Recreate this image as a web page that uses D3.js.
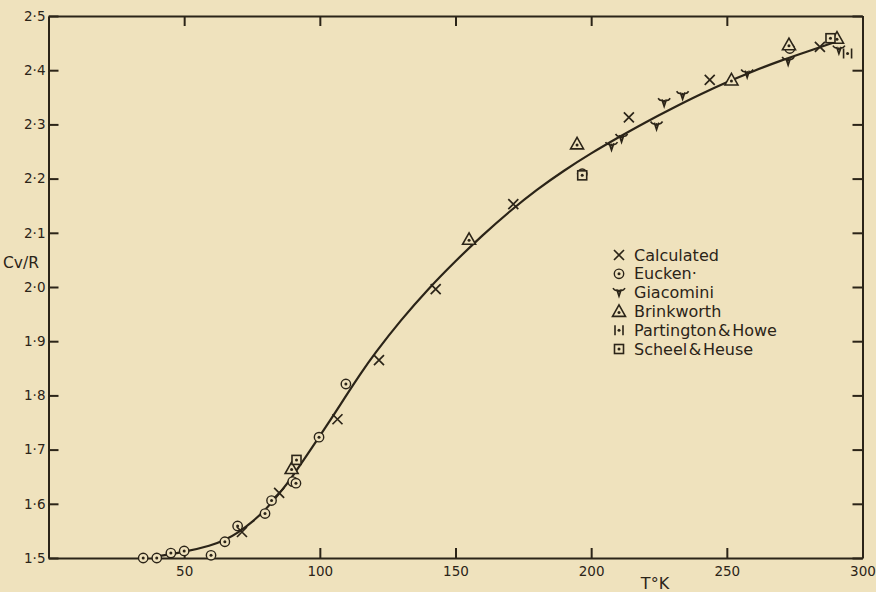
<!DOCTYPE html>
<html>
<head>
<meta charset="utf-8">
<script src="https://cdn.jsdelivr.net/npm/d3@7"></script>
<style>
  html, body { margin: 0; padding: 0; background: #efe2bd; }
  svg { display: block; }
  text { font-family: "DejaVu Sans", sans-serif; fill: #2b2418; }
  .axis path, .axis line { stroke: #2b2418; stroke-width: 2; }
</style>
</head>
<body>
<svg id="chartsvg" width="876" height="592"></svg>
<script>
var vis = d3.select("#chartsvg");
const ink = "#2b2418";
const paper = "#efe2bd";

// x ticks (T in K) and y ticks (Cv/R)
let xTicks = [50, 100, 150, 200, 250, 300];
let yTicks = [1.5, 1.6, 1.7, 1.8, 1.9, 2.0, 2.1, 2.2, 2.3, 2.4, 2.5];

// smooth curve: [T, Cv/R]
let curvePts = [[40, 1.503], [50, 1.511], [60, 1.523], [65, 1.533], [70, 1.547], [75, 1.566],
    [80, 1.589], [85, 1.618], [90, 1.651], [95, 1.688], [100, 1.725], [105, 1.763],
    [110, 1.802], [115, 1.840], [120, 1.876], [130, 1.940], [140, 1.997], [150, 2.048],
    [160, 2.096], [170, 2.140], [180, 2.180], [190, 2.215], [200, 2.247], [210, 2.276],
    [220, 2.304], [230, 2.330], [240, 2.355], [250, 2.378], [260, 2.399], [270, 2.418],
    [280, 2.435], [290, 2.452]];

// observed / calculated series
let calculated = [[71.3, 1.548], [85, 1.620], [106.5, 1.756], [121.8, 1.865], [142.7, 1.996],
    [171.3, 2.153], [213.9, 2.313], [243.7, 2.382], [284.3, 2.443]];
let eucken = [[34.9, 1.500], [39.9, 1.500], [45.1, 1.509], [50.0, 1.513], [59.9, 1.505],
    [65.0, 1.530], [69.7, 1.559], [79.8, 1.582], [82.2, 1.606], [90.0, 1.641], [91.2, 1.638],
    [99.7, 1.723], [109.6, 1.821], [196.7, 2.209], [273.2, 2.440]];
let giacomini = [[207.5, 2.259], [211.2, 2.274], [224.1, 2.297], [226.9, 2.340], [233.7, 2.353],
    [257.5, 2.393], [272.6, 2.416], [291.3, 2.437]];
let brinkworth = [[89.6, 1.665], [155.0, 2.088], [194.8, 2.264], [251.7, 2.382], [272.9, 2.447],
    [290.6, 2.459]];
let partington = [[294.5, 2.431]];
let scheel = [[91.4, 1.681], [196.7, 2.206], [288.2, 2.459]];

let legendNames = ["Calculated", "Eucken\u00b7", "Giacomini", "Brinkworth", "Partington & Howe", "Scheel & Heuse"];

const plot = {left: 48.5, right: 862.5, top: 16, bottom: 558};

var x = d3.scaleLinear().domain([0, 300]).range([plot.left, plot.right]);
var y = d3.scaleLinear().domain([1.5, 2.5]).range([plot.bottom, plot.top]);
var fmt = d => d.toFixed(1).replace(".", "\u00b7");

// axes, ticks pointing inward on all four sides
vis.append("g").attr("class", "axis")
    .attr("transform", "translate(0," + plot.bottom + ")")
    .call(d3.axisBottom(x).tickValues(xTicks).tickSize(-10).tickSizeOuter(0).tickPadding(6))
    .call(g => g.selectAll("text").attr("font-size", 13.5).attr("dy", "0.9em"));

vis.append("g").attr("class", "axis")
    .attr("transform", "translate(0," + plot.top + ")")
    .call(d3.axisTop(x).tickValues(xTicks).tickSize(-10).tickSizeOuter(0).tickFormat(""));

vis.append("g").attr("class", "axis")
    .attr("transform", "translate(" + plot.left + ",0)")
    .call(d3.axisLeft(y).tickValues(yTicks).tickSize(-10).tickSizeOuter(0).tickPadding(3).tickFormat(fmt))
    .call(g => g.selectAll("text").attr("font-size", 13.5));

vis.append("g").attr("class", "axis")
    .attr("transform", "translate(" + plot.right + ",0)")
    .call(d3.axisRight(y).tickValues(yTicks).tickSize(-10).tickSizeOuter(0).tickFormat(""));

vis.selectAll(".axis .domain").attr("stroke-width", 2.2);

// axis titles
vis.append("text").attr("x", 655).attr("y", 589)
    .attr("text-anchor", "middle").attr("font-size", 16).text("T\u00b0K");
vis.append("text").attr("x", 3).attr("y", 268)
    .attr("font-size", 15.5).text("Cv/R");

// fitted curve
var line = d3.line().x(d => x(d[0])).y(d => y(d[1])).curve(d3.curveBasis);
vis.append("path").datum(curvePts)
    .attr("d", line).attr("fill", "none")
    .attr("stroke", ink).attr("stroke-width", 2.2);

// marker drawers
function dot(g, cy) {
    g.append("circle").attr("cy", cy || 0).attr("r", 1.5).attr("fill", ink);
}
const markers = {
    cross: g => g.append("path").attr("d", "M-5,-5L5,5M-5,5L5,-5")
        .attr("stroke", ink).attr("stroke-width", 1.7).attr("fill", "none"),
    circle: g => {
        g.append("circle").attr("r", 4.7).attr("fill", paper).attr("stroke", ink).attr("stroke-width", 1.4);
        dot(g);
    },
    vee: g => {
        g.append("path").attr("d", "M-6,-4.5Q-4,-1.5-2,-2.5L0,3.5L2,-2.5Q4,-1.5,6,-4.5")
            .attr("stroke", ink).attr("stroke-width", 1.7).attr("fill", "none");
        dot(g, -1.5);
    },
    triangle: g => {
        g.append("path").attr("d", "M0,-6.5L6.5,5L-6.5,5Z").attr("fill", paper)
            .attr("stroke", ink).attr("stroke-width", 1.6);
        dot(g, 1);
    },
    bars: g => {
        g.append("path").attr("d", "M-4,-5V5M4,-5V5").attr("stroke", ink).attr("stroke-width", 1.6);
        dot(g);
    },
    square: g => {
        g.append("rect").attr("x", -4.5).attr("y", -4.5).attr("width", 9).attr("height", 9)
            .attr("fill", paper).attr("stroke", ink).attr("stroke-width", 1.6);
        dot(g);
    }
};

var seriesList = [
    {data: calculated, mark: "cross"},
    {data: eucken, mark: "circle"},
    {data: giacomini, mark: "vee"},
    {data: brinkworth, mark: "triangle"},
    {data: partington, mark: "bars"},
    {data: scheel, mark: "square"}
];

// draw open symbols first, crosses last so they stay visible
[1, 2, 3, 5, 4, 0].forEach(i => {
    var s = seriesList[i];
    vis.append("g").selectAll("g").data(s.data).enter()
        .append("g")
        .attr("transform", d => "translate(" + x(d[0]) + "," + y(d[1]) + ")")
        .each(function () { markers[s.mark](d3.select(this)); });
});

// legend
var legend = vis.append("g").attr("transform", "translate(619,255)");
legendNames.forEach((name, i) => {
    var row = legend.append("g").attr("transform", "translate(0," + (i * 18.8) + ")");
    markers[seriesList[i].mark](row.append("g"));
    row.append("text").attr("x", 15).attr("y", 5.5).attr("font-size", 16)
        .attr("word-spacing", -3.5).text(name);
});
</script>
</body>
</html>
